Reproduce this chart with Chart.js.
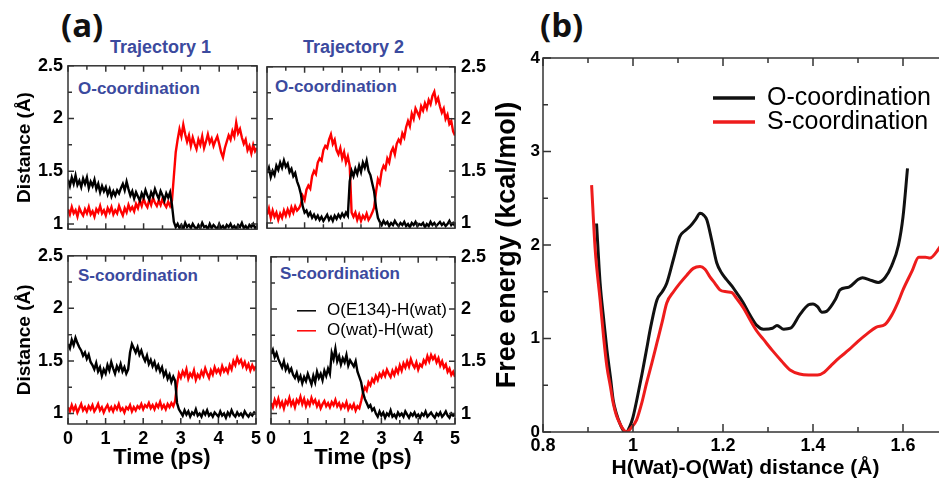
<!DOCTYPE html>
<html><head><meta charset="utf-8">
<script src="https://cdn.jsdelivr.net/npm/chart.js@4/dist/chart.umd.min.js"></script>
<style>
html,body{margin:0;padding:0;background:#fff;}
body{width:939px;height:482px;overflow:hidden;position:relative;font-family:'Liberation Sans',Arial,sans-serif;}
canvas{position:absolute;}
.lbl{position:absolute;white-space:nowrap;line-height:1;}
.pan{font-family:'Open Sans',sans-serif;font-weight:700;font-size:33px;color:#111;}
.traj{font-weight:700;font-size:18px;color:#3b4a9e;}
.coord{font-weight:700;font-size:17px;color:#3b4a9e;}
</style></head><body>
<div class="lbl pan" style="left:61px;top:8px">(a)</div>
<div class="lbl traj" style="left:110px;top:38px">Trajectory 1</div>
<div class="lbl traj" style="left:303px;top:38px">Trajectory 2</div>
<div class="lbl pan" style="left:540px;top:8px">(b)</div>
<div class="lbl coord" style="left:78px;top:80px">O-coordination</div>
<div class="lbl coord" style="left:275px;top:78px">O-coordination</div>
<div class="lbl coord" style="left:78px;top:267px">S-coordination</div>
<div class="lbl coord" style="left:280px;top:265px">S-coordination</div>
<canvas id="cTL" width="265" height="195" style="left:0;top:50px"></canvas>
<canvas id="cTR" width="240" height="195" style="left:262px;top:50px"></canvas>
<canvas id="cBL" width="265" height="242" style="left:0;top:240px"></canvas>
<canvas id="cBR" width="240" height="242" style="left:262px;top:240px"></canvas>
<canvas id="cB" width="480" height="442" style="left:490px;top:40px"></canvas>
<script>
// ---------- DATA ----------
const timeSpan = 5; // ps, each trajectory sampled evenly over 0..5 ps
const legendA = ['O(E134)-H(wat)', 'O(wat)-H(wat)'];
const xTicksA = [0, 1, 2, 3, 4, 5];
const yTicksA = [1, 1.5, 2, 2.5];

// Trajectory 1, O-coordination
const traj1O_OE134 = [1.42,1.36,1.44,1.38,1.46,1.37,1.41,1.35,1.43,1.38,1.44,1.34,1.40,1.36,1.42,
 1.33,1.38,1.30,1.36,1.31,1.35,
 1.28,1.33,1.26,1.31,1.27,1.32,1.29,1.34,
 1.38,1.32,1.40,1.33,
 1.27,1.31,1.24,1.30,1.26,1.22,1.29,1.25,1.32,1.27,1.23,1.30,1.26,1.33,1.28,1.24,1.31,1.27,1.22,1.29,1.25,1.30,
 1.18,1.02,
 0.97,1.00,0.96,0.99,0.95,1.01,0.97,0.99,0.96,1.00,0.97,0.95,0.99,0.96,1.01,0.97,0.98,0.95,1.00,0.96,0.99,0.97,0.95,1.00,0.96,0.98,0.95,0.99,0.97,1.00,0.96,0.98,0.95,0.99,0.97,1.01,0.96,0.98,0.95,0.99,0.97,1.00,0.96,0.98];
const traj1O_Owat = [1.14,1.09,1.16,1.10,1.13,1.07,1.15,1.11,1.08,1.14,1.10,1.16,1.09,1.12,1.07,1.14,1.11,1.17,1.10,1.13,1.08,1.15,1.11,1.16,1.09,1.13,1.10,1.17,1.12,1.08,1.15,1.11,1.18,1.13,1.16,1.12,1.19,
 1.15,1.22,1.17,1.24,1.19,1.16,1.23,1.18,1.25,1.20,1.17,1.22,1.18,1.24,1.19,1.16,1.21,1.17,1.22,
 1.45,1.68,
 1.80,1.90,1.83,1.94,1.85,
 1.78,1.84,1.74,1.82,1.76,1.71,1.80,1.75,1.83,1.72,1.78,1.85,1.77,1.81,1.74,1.79,1.83,1.76,
 1.68,1.63,1.72,1.78,
 1.84,1.80,1.88,1.83,1.96,1.86,1.90,1.82,
 1.76,1.80,1.70,1.74,1.67,1.75,1.69,1.72];

// Trajectory 2, O-coordination
const traj2O_OE134 = [1.48,1.53,1.44,1.50,1.46,1.55,1.51,1.58,1.53,1.60,1.54,1.57,1.49,1.52,1.45,1.48,1.40,1.35,1.28,
 1.16,1.10,1.12,1.07,1.10,1.05,1.08,1.04,1.07,1.03,1.06,1.02,1.05,1.08,1.03,1.06,1.02,1.07,1.04,1.08,1.05,1.09,1.06,1.10,1.07,
 1.40,1.50,1.45,1.52,1.47,1.55,1.49,1.58,1.53,1.60,1.50,1.46,1.38,1.30,
 1.15,1.05,
 1.01,0.98,1.02,0.99,1.01,0.97,1.00,0.98,1.02,0.99,0.97,1.00,0.98,1.01,0.97,0.99,0.96,1.00,0.98,1.01,0.97,0.99,0.98,1.00,0.96,0.99,0.97,1.01,0.98,1.00,0.97,0.99,1.01,0.98,1.00,0.97,0.99,1.02,0.98,1.00,0.97];
const traj2O_Owat = [1.08,1.14,1.05,1.12,1.06,1.10,1.03,1.09,1.05,1.12,1.07,1.13,1.08,1.15,1.10,1.16,1.12,1.14,
 1.18,1.26,1.22,1.32,1.36,1.33,1.45,1.50,1.47,1.58,1.62,1.60,1.70,1.74,1.72,1.80,1.85,
 1.76,1.80,1.70,1.66,1.72,1.62,1.68,1.58,1.64,1.55,
 1.10,
 1.06,1.10,1.03,1.08,1.02,1.07,1.04,1.09,1.03,1.06,1.10,1.15,
 1.30,1.42,1.38,1.50,1.55,1.52,1.62,1.58,1.68,1.72,1.66,1.76,1.80,1.77,1.86,1.82,1.92,1.98,1.93,2.05,2.00,2.10,2.06,2.02,2.12,2.08,2.15,2.10,2.18,2.14,2.22,2.26,2.16,2.20,2.12,2.06,2.10,2.00,2.04,1.95,1.98,1.88,1.84];

// Trajectory 1, S-coordination
const traj1S_OE134 = [1.66,1.62,1.70,1.65,1.72,1.67,1.63,
 1.60,1.55,1.58,1.52,1.56,1.49,
 1.46,1.42,1.48,1.40,1.44,1.36,1.42,1.38,
 1.46,1.41,1.49,1.43,1.38,1.45,1.41,1.47,1.40,1.44,1.38,1.42,
 1.58,1.66,
 1.62,1.58,1.63,1.56,1.60,1.54,
 1.50,1.55,1.47,1.51,1.45,1.49,1.42,1.46,1.40,1.44,
 1.36,1.40,1.33,1.37,1.30,1.35,1.31,
 1.10,1.04,
 1.01,0.98,1.03,0.99,1.02,0.97,1.01,0.99,1.04,0.98,1.00,0.97,1.02,0.99,1.03,0.98,1.00,0.97,1.01,0.99,0.97,1.02,0.98,1.00,0.96,1.01,0.98,1.03,0.99,0.97,1.01,0.98,1.00,0.97,1.02,0.99,0.97,1.00,0.98,1.01,0.99];
const traj1S_Owat = [1.06,1.02,1.08,1.03,1.07,1.01,1.05,1.09,1.03,1.06,1.02,1.07,1.04,1.08,1.02,1.05,1.09,1.03,1.06,1.01,
 1.05,1.08,1.03,1.06,1.02,1.07,1.04,1.09,1.03,1.05,1.01,1.06,1.04,1.08,1.02,1.06,1.03,1.07,1.05,1.09,
 1.04,1.08,1.06,1.10,1.05,1.08,1.04,1.09,1.06,1.11,1.05,1.08,1.04,1.09,1.06,1.10,1.07,1.12,
 1.28,1.38,
 1.34,1.40,1.36,1.42,1.33,1.38,1.35,1.41,1.32,1.37,1.34,1.40,1.36,1.43,1.38,1.34,1.41,1.37,1.44,1.39,
 1.42,1.38,1.45,1.40,1.43,1.39,1.46,1.42,1.50,1.46,1.53,1.48,1.51,1.45,1.49,1.43,1.47,1.41,1.46,1.42,1.45];

// Trajectory 2, S-coordination
const traj2S_OE134 = [1.57,1.61,1.54,1.58,1.52,
 1.48,1.44,1.50,1.42,1.46,1.40,1.43,1.37,
 1.34,1.39,1.32,1.36,1.29,1.35,1.31,1.38,1.33,1.28,1.36,1.30,1.40,1.34,1.38,1.32,1.41,1.36,1.43,1.38,
 1.58,1.52,1.62,
 1.50,1.55,1.47,1.53,1.49,1.56,1.46,1.51,1.48,1.45,1.50,
 1.40,1.35,1.30,
 1.20,1.14,
 1.10,1.06,1.08,1.03,1.05,
 1.00,0.97,1.02,0.98,1.01,0.96,1.00,0.98,1.03,0.97,0.99,0.96,1.01,0.98,1.00,0.97,1.02,0.99,0.96,1.00,0.98,1.01,0.97,0.99,0.96,1.00,0.98,1.02,0.97,0.99,1.01,0.98,0.96,1.00,0.98,1.01,0.97,0.99,1.02,0.98,0.96,1.00,0.98,0.99];
const traj2S_Owat = [1.10,1.06,1.13,1.08,1.14,1.07,1.11,1.05,1.12,1.09,1.15,1.08,1.12,1.06,1.13,1.10,1.16,1.09,1.14,1.07,
 1.12,1.08,1.15,1.10,1.13,1.07,1.11,1.05,1.09,1.12,1.07,1.10,1.06,1.11,1.08,1.13,1.07,1.10,1.05,1.09,
 1.06,1.11,1.04,1.08,1.05,1.09,1.03,1.07,1.05,
 1.12,1.20,1.25,1.22,1.30,1.27,1.33,1.30,
 1.36,1.32,1.38,1.35,1.40,1.36,1.42,1.38,1.35,1.41,1.37,1.43,1.39,1.46,1.41,1.48,1.44,1.50,1.45,1.52,
 1.47,1.44,1.49,1.42,1.47,1.45,1.51,1.48,1.55,1.50,1.56,1.52,1.55,1.49,1.53,1.46,1.50,1.44,1.47,1.40,1.43,1.37,1.40,1.35];

// Panel (b): free energy profiles
const legendB = ['O-coordination', 'S-coordination'];
const xTicksB = [0.8, 1, 1.2, 1.4, 1.6];
const yTicksB = [0, 1, 2, 3, 4];
const distO = [0.919,0.927,0.935,0.942,0.95,0.956,0.963,0.971,0.978,0.985,0.993,1.0,1.01,1.02,1.03,1.04,1.053,1.065,1.075,1.09,1.104,1.115,1.127,1.14,1.149,1.157,1.164,1.175,1.186,1.197,1.208,1.22,1.23,1.244,1.26,1.275,1.29,1.31,1.32,1.335,1.35,1.37,1.39,1.40,1.41,1.42,1.43,1.45,1.46,1.48,1.50,1.51,1.53,1.545,1.56,1.575,1.59,1.60,1.61];
const energyO = [2.23,1.59,1.2,0.88,0.58,0.34,0.2,0.09,0.02,0.0,0.06,0.16,0.38,0.62,0.88,1.14,1.41,1.5,1.59,1.85,2.09,2.15,2.2,2.28,2.34,2.32,2.27,2.05,1.81,1.7,1.63,1.56,1.49,1.39,1.25,1.14,1.1,1.11,1.14,1.1,1.11,1.25,1.36,1.37,1.34,1.28,1.29,1.42,1.52,1.55,1.63,1.65,1.62,1.6,1.65,1.78,2.0,2.3,2.82];
const distS = [0.908,0.916,0.927,0.935,0.942,0.95,0.956,0.963,0.971,0.978,0.986,0.995,1.008,1.02,1.03,1.042,1.053,1.065,1.075,1.09,1.104,1.12,1.134,1.149,1.16,1.171,1.182,1.193,1.208,1.22,1.23,1.245,1.26,1.275,1.29,1.31,1.33,1.35,1.37,1.39,1.41,1.425,1.44,1.46,1.48,1.50,1.52,1.54,1.56,1.575,1.59,1.60,1.62,1.635,1.65,1.66,1.675,1.69,1.70];
const energyS = [2.64,1.95,1.41,1.0,0.70,0.48,0.31,0.18,0.09,0.03,0.0,0.04,0.13,0.32,0.52,0.74,0.95,1.18,1.38,1.5,1.59,1.68,1.75,1.77,1.74,1.66,1.59,1.52,1.50,1.49,1.43,1.33,1.2,1.08,0.99,0.87,0.76,0.66,0.62,0.61,0.61,0.64,0.71,0.8,0.88,0.97,1.05,1.12,1.15,1.25,1.4,1.52,1.72,1.87,1.87,1.86,1.93,2.05,2.2];

// ---------- RENDER ----------
const FONT = "'Liberation Sans', Arial, Helvetica, sans-serif";
Chart.defaults.font.family = FONT;
Chart.defaults.color = '#000';

const frameTicks = {
  id: 'frameTicks',
  afterDatasetsDraw(chart, args, o) {
    const {ctx, chartArea: a, scales: {x, y}} = chart;
    ctx.save();
    ctx.strokeStyle = o.color; ctx.lineWidth = o.lineWidth;
    ctx.strokeRect(a.left, a.top, a.right - a.left, a.bottom - a.top);
    const mark = (scale, step, major, horiz) => {
      const n0 = Math.ceil(scale.min / step - 1e-6), n1 = Math.floor(scale.max / step + 1e-6);
      for (let n = n0; n <= n1; n++) {
        const v = n * step;
        const isMajor = Math.abs(v / major - Math.round(v / major)) < 1e-6;
        const len = isMajor ? o.majorLen : o.minorLen;
        const p = scale.getPixelForValue(v);
        ctx.beginPath();
        if (horiz) {
          ctx.moveTo(p, a.bottom); ctx.lineTo(p, a.bottom - len);
          ctx.moveTo(p, a.top); ctx.lineTo(p, a.top + len);
        } else {
          ctx.moveTo(a.left, p); ctx.lineTo(a.left + len, p);
          ctx.moveTo(a.right, p); ctx.lineTo(a.right - len, p);
        }
        ctx.stroke();
      }
    };
    mark(x, o.xStep, o.xMajor, true);
    mark(y, o.yStep, o.yMajor, false);
    ctx.restore();
  }
};

const inlineLegend = {
  id: 'inlineLegend',
  afterDraw(chart, args, o) {
    if (!o.show) return;
    const {ctx, chartArea: a} = chart;
    ctx.save();
    ctx.font = o.font; ctx.textBaseline = 'middle'; ctx.textAlign = 'left';
    chart.data.datasets.forEach((ds, i) => {
      const yy = a.top + o.dy + i * o.rowH;
      const x0 = a.left + o.dx;
      ctx.strokeStyle = ds.borderColor; ctx.lineWidth = o.lineW;
      ctx.beginPath(); ctx.moveTo(x0, yy); ctx.lineTo(x0 + o.len, yy); ctx.stroke();
      ctx.fillStyle = '#000';
      ctx.fillText(ds.label, x0 + o.len + o.gap, yy);
    });
    ctx.restore();
  }
};

function series(vals) { return vals.map((v, i) => ({x: i * timeSpan / (vals.length - 1), y: v})); }
const setTicks = arr => s => { s.ticks = arr.map(v => ({value: v})); };

function panelA(id, black, red, opt) {
  return new Chart(document.getElementById(id), {
    type: 'line',
    data: {datasets: [
      {label: legendA[0], data: series(black), borderColor: '#000000', borderWidth: 2.4, pointRadius: 0, tension: 0},
      {label: legendA[1], data: series(red), borderColor: '#ff0000', borderWidth: 2.4, pointRadius: 0, tension: 0}
    ]},
    options: {
      responsive: false, animation: false, devicePixelRatio: 1, events: [],
      layout: {padding: opt.padding},
      plugins: {
        legend: {display: false}, tooltip: {enabled: false},
        frameTicks: {color: '#333', lineWidth: 1.5, majorLen: 6, minorLen: 4, xStep: 0.5, xMajor: 1, yStep: 0.25, yMajor: 0.5},
        inlineLegend: opt.legend || {show: false}
      },
      scales: {
        x: {type: 'linear', min: 0, max: 5, display: opt.showX, position: 'bottom',
          afterFit: s => { s.height = opt.showX ? 58 : 0; }, afterBuildTicks: setTicks(xTicksA),
          ticks: {font: {weight: 'bold', size: 18}, padding: 4, maxRotation: 0, autoSkip: false, color: '#000'},
          grid: {display: false, drawTicks: false}, border: {display: false},
          title: {display: true, text: 'Time (ps)', font: {weight: 'bold', size: 22}, padding: {top: 0, bottom: 11}, color: '#000'}},
        y: {type: 'linear', min: opt.ymin, max: 2.5, position: opt.yPos,
          afterFit: s => { s.width = opt.yWidth; }, afterBuildTicks: setTicks(yTicksA),
          ticks: {font: {weight: 'bold', size: 18}, padding: opt.yPos === 'left' ? 5 : 6, color: '#000', callback: v => String(v)},
          grid: {display: false, drawTicks: false}, border: {display: false},
          title: {display: opt.yPos === 'left', text: 'Distance (Å)', font: {weight: 'bold', size: 19}, padding: {top: 13, bottom: 0}, color: '#000'}}
      }
    },
    plugins: [frameTicks, inlineLegend]
  });
}

panelA('cTL', traj1O_OE134, traj1O_Owat, {padding: {top: 13, right: 8, bottom: 7, left: 0}, showX: false, ymin: 0.95, yPos: 'left', yWidth: 68});
panelA('cTR', traj2O_OE134, traj2O_Owat, {padding: {top: 13, right: 0, bottom: 7, left: 5}, showX: false, ymin: 0.95, yPos: 'right', yWidth: 47});
panelA('cBL', traj1S_OE134, traj1S_Owat, {padding: {top: 11, right: 8, bottom: 0, left: 0}, showX: true, ymin: 0.9, yPos: 'left', yWidth: 68});
panelA('cBR', traj2S_OE134, traj2S_Owat, {padding: {top: 11, right: 0, bottom: 0, left: 5}, showX: true, ymin: 0.9, yPos: 'right', yWidth: 47,
  legend: {show: true, dx: 26, dy: 54, rowH: 20, len: 19, gap: 11, lineW: 1.5, font: "17px " + FONT}});

new Chart(document.getElementById('cB'), {
  type: 'line',
  data: {datasets: [
    {label: legendB[0], data: distO.map((d, i) => ({x: d, y: energyO[i]})), borderColor: '#111111', borderWidth: 3, pointRadius: 0, cubicInterpolationMode: 'monotone', order: 1},
    {label: legendB[1], data: distS.map((d, i) => ({x: d, y: energyS[i]})), borderColor: '#ee1c1c', borderWidth: 3, pointRadius: 0, cubicInterpolationMode: 'monotone', order: 0}
  ]},
  options: {
    responsive: false, animation: false, devicePixelRatio: 1, events: [],
    layout: {padding: {top: 18, right: 22, bottom: 0, left: 0}},
    plugins: {
      legend: {display: false}, tooltip: {enabled: false},
      frameTicks: {color: '#333', lineWidth: 1.5, majorLen: 8, minorLen: 5, xStep: 0.1, xMajor: 0.2, yStep: 0.5, yMajor: 1},
      inlineLegend: {show: true, dx: 170, dy: 40, rowH: 24, len: 42, gap: 12, lineW: 3.5, font: "25px " + FONT}
    },
    scales: {
      x: {type: 'linear', min: 0.8, max: 1.7, position: 'bottom',
        afterFit: s => { s.height = 50; }, afterBuildTicks: setTicks(xTicksB),
        ticks: {font: {weight: 'bold', size: 18}, padding: 3, maxRotation: 0, autoSkip: false, color: '#000', callback: v => String(v)},
        grid: {display: false, drawTicks: false}, border: {display: false},
        title: {display: true, text: 'H(Wat)-O(Wat) distance (Å)', font: {weight: 'bold', size: 21}, padding: {top: 0, bottom: 1}, color: '#000'}},
      y: {type: 'linear', min: 0, max: 4, position: 'left',
        afterFit: s => { s.width = 53; }, afterBuildTicks: setTicks(yTicksB),
        ticks: {font: {weight: 'bold', size: 17}, padding: 3, color: '#000', callback: v => String(v)},
        grid: {display: false, drawTicks: false}, border: {display: false},
        title: {display: true, text: 'Free energy (kcal/mol)', font: {weight: 'bold', size: 27}, padding: {top: 1, bottom: 0}, color: '#000'}}
    }
  },
  plugins: [frameTicks, inlineLegend]
});
</script>
</body></html>
